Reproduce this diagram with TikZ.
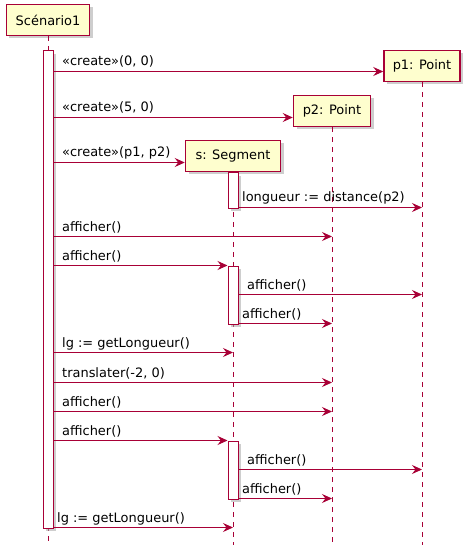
\documentclass[tikz,border=0pt]{standalone}
\usepackage{fontspec}
\setmainfont{DejaVu Sans}
\usetikzlibrary{arrows.meta,shadows}
\definecolor{pu}{RGB}{168,0,54}
\definecolor{pfill}{RGB}{254,254,206}
\begin{document}
\begin{tikzpicture}[x=1bp,y=-1bp,font=\fontsize{13}{15}\selectfont,
  shd/.style={drop shadow={shadow xshift=3bp,shadow yshift=-3bp,fill=black!35,opacity=0.55,draw=none}},
  part/.style={draw=pu,line width=1.5bp,fill=pfill,minimum height=31bp,inner sep=0pt,shd},
  act/.style={draw=pu,line width=1bp,fill=white,minimum width=10bp,inner sep=0pt,anchor=north,shd},
  life/.style={draw=pu,color=pu,line width=1bp,dash pattern=on 5bp off 5bp},
  msg/.style={draw=pu,line width=1bp,-{Stealth[length=10bp,width=9bp,inset=3.5bp]}},
  lbl/.style={anchor=base west,inner sep=0pt,text=black}]
\useasboundingbox[fill=white] (0,0) rectangle (471,551);
% participants
\node[part,minimum width=83bp] (sc) at (48,20) {Scénario1};
\node[part,minimum width=76bp] (p1) at (422,66) {p1: Point};
\node[part,minimum width=77bp] (p2) at (332,111) {p2: Point};
\node[part,minimum width=95bp] (s) at (233,156) {s: Segment};
% lifelines
\coordinate (e0) at (sc.south |- 0,545);
\coordinate (e1) at (p1.south |- 0,545);
\coordinate (e2) at (p2.south |- 0,545);
\coordinate (e3) at (s.south |- 0,545);
\draw[life] (sc.south) -- (e0);
\draw[life] (p1.south) -- (e1);
\draw[life] (p2.south) -- (e2);
\draw[life] (s.south) -- (e3);
% activations
\node[act,minimum height=477bp] (a0) at (sc.south |- 0,50.5) {};
\node[act,minimum height=35bp] (b1) at (s.south |- 0,172.5) {};
\node[act,minimum height=58bp] (b2) at (s.south |- 0,265.5) {};
\node[act,minimum height=58bp] (b3) at (s.south |- 0,440.5) {};
% messages
\draw[msg] (a0.east |- 0,71.5) -- (p1.west |- 0,71.5);
\node[lbl] (l1) at (62,66) {«create»(0, 0)};
\draw[msg] (a0.east |- 0,117.5) -- (p2.west |- 0,117.5);
\node[lbl] (l2) at (62,112) {«create»(5, 0)};
\draw[msg] (a0.east |- 0,162.5) -- (s.west |- 0,162.5);
\node[lbl] (l3) at (62,157) {«create»(p1, p2)};
\draw[msg] (b1.east |- 0,207.5) -- (p1.south |- 0,207.5);
\node[lbl] (l4) at (242,202) {longueur := distance(p2)};
\draw[msg] (a0.east |- 0,236.5) -- (p2.south |- 0,236.5);
\node[lbl] (l5) at (62,231) {afficher()};
\draw[msg] (a0.east |- 0,265.5) -- (b2.west |- 0,265.5);
\node[lbl] (l6) at (62,260) {afficher()};
\draw[msg] (b2.east |- 0,294.5) -- (p1.south |- 0,294.5);
\node[lbl] (l7) at (247,289) {afficher()};
\draw[msg] (b2.east |- 0,323.5) -- (p2.south |- 0,323.5);
\node[lbl] (l8) at (242,318) {afficher()};
\draw[msg] (a0.east |- 0,352.5) -- (s.south |- 0,352.5);
\node[lbl] (l9) at (62,347) {lg := getLongueur()};
\draw[msg] (a0.east |- 0,382.5) -- (p2.south |- 0,382.5);
\node[lbl] (l10) at (62,377) {translater(-2, 0)};
\draw[msg] (a0.east |- 0,411.5) -- (p2.south |- 0,411.5);
\node[lbl] (l11) at (62,406) {afficher()};
\draw[msg] (a0.east |- 0,440.5) -- (b3.west |- 0,440.5);
\node[lbl] (l12) at (62,435) {afficher()};
\draw[msg] (b3.east |- 0,469.5) -- (p1.south |- 0,469.5);
\node[lbl] (l13) at (247,464) {afficher()};
\draw[msg] (b3.east |- 0,498.5) -- (p2.south |- 0,498.5);
\node[lbl] (l14) at (242,493) {afficher()};
\draw[msg] (a0.east |- 0,527.5) -- (s.south |- 0,527.5);
\node[lbl] (l15) at (57,522) {lg := getLongueur()};
\end{tikzpicture}
\end{document}
